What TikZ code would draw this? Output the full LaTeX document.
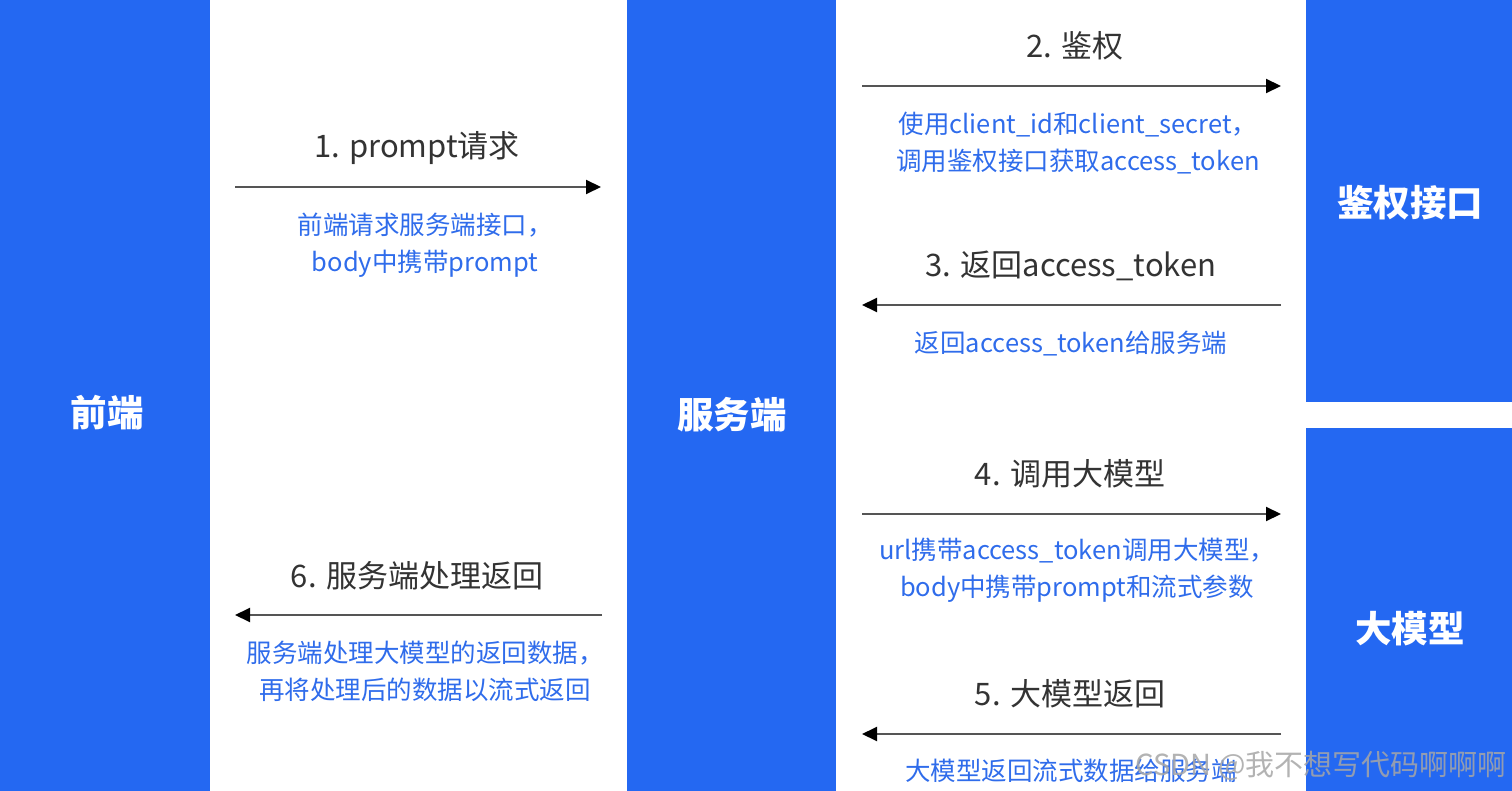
\documentclass[tikz,border=0pt]{standalone}
\usepackage{fontspec}
\setmainfont{Noto Sans CJK SC}
\usetikzlibrary{arrows.meta}
\definecolor{colblue}{HTML}{2468F2}
\definecolor{txtblue}{HTML}{2F6CEB}
\definecolor{txtdark}{HTML}{333333}
\definecolor{linegray}{HTML}{555555}
\tikzset{
  block/.style={fill=colblue,draw=none},
  blocklabel/.style={text=white,font=\fontsize{36.5}{42}\selectfont\bfseries,inner sep=0pt},
  steplabel/.style={text=txtdark,font=\fontsize{31}{36}\selectfont,inner sep=0pt},
  desclabel/.style={text=txtblue,font=\fontsize{25.5}{37}\selectfont,inner sep=0pt,align=center},
  msg/.style={draw=linegray,line width=2pt,-{Triangle[length=15pt,width=14pt,fill=black,color=black]}},
  wmark/.style={text=gray!70,font=\fontsize{29}{32}\selectfont,inner sep=0pt,opacity=0.85}
}
\begin{document}
\begin{tikzpicture}[x=1pt,y=-1pt]
\useasboundingbox (0,0) rectangle (1512,791);
% columns
\fill[block] (0,0) rectangle (210,791);
\fill[block] (627,0) rectangle (836,791);
\fill[block] (1306,0) rectangle (1512,402);
\fill[block] (1306,428) rectangle (1512,791);
\node[blocklabel] (fe) at (107,413) {前端};
\node[blocklabel] (srv) at (732,415) {服务端};
\node[blocklabel] (auth) at (1410,203) {鉴权接口};
\node[blocklabel] (llm) at (1410,629) {大模型};
% arrow endpoints
\coordinate (a1s) at (235,187); \coordinate (a1e) at (601,187);
\coordinate (a2s) at (862,86);  \coordinate (a2e) at (1281,86);
\coordinate (a3s) at (1281,305); \coordinate (a3e) at (862,305);
\coordinate (a4s) at (862,514); \coordinate (a4e) at (1281,514);
\coordinate (a5s) at (1281,734); \coordinate (a5e) at (862,734);
\coordinate (a6s) at (602,615); \coordinate (a6e) at (235,615);
\draw[msg] (a1s) -- (a1e);
\draw[msg] (a2s) -- (a2e);
\draw[msg] (a3s) -- (a3e);
\draw[msg] (a4s) -- (a4e);
\draw[msg] (a5s) -- (a5e);
\draw[msg] (a6s) -- (a6e);
% step labels
\node[steplabel] (s1) at (417,148) {1. prompt请求};
\node[steplabel] (s2) at (1075,46) {2. 鉴权};
\node[steplabel] (s3) at (1071,266) {3. 返回access\_token};
\node[steplabel] (s4) at (1070,474) {4. 调用大模型};
\node[steplabel] (s5) at (1070,694) {5. 大模型返回};
\node[steplabel] (s6) at (417,576) {6. 服务端处理返回};
% descriptions
\node[desclabel] (d1) at (425,245.5) {前端请求服务端接口，\\body中携带prompt};
\node[desclabel] (d2) at (1078,143.5) {使用client\_id和client\_secret，\\调用鉴权接口获取access\_token};
\node[desclabel] (d3) at (1071,344) {返回access\_token给服务端};
\node[desclabel] (d4) at (1077,570.5) {url携带access\_token调用大模型，\\body中携带prompt和流式参数};
\node[desclabel] (d5) at (1071,771) {大模型返回流式数据给服务端};
\node[desclabel] (d6) at (425,671) {服务端处理大模型的返回数据，\\再将处理后的数据以流式返回};
% watermark
\node[wmark,anchor=east] (wm) at (1507,766) {CSDN @我不想写代码啊啊啊};
\end{tikzpicture}
\end{document}
